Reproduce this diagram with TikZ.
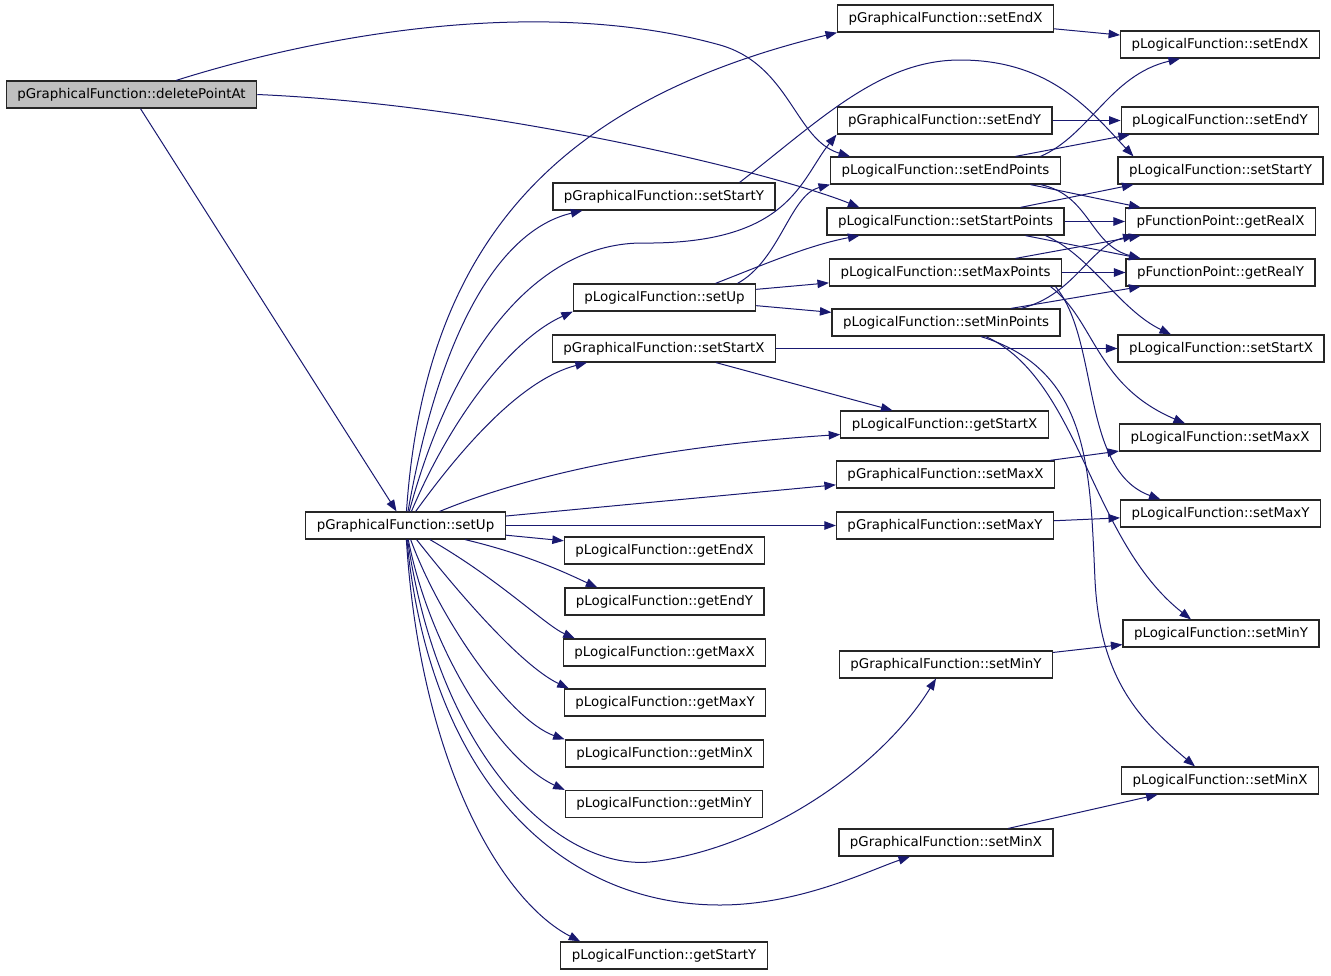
\documentclass[tikz,border=0pt]{standalone}
\usepackage{fontspec}
\setmainfont{DejaVu Sans}
\usepackage{tikz}
\usetikzlibrary{arrows.meta}
\definecolor{edgeblue}{RGB}{25,25,112}
\definecolor{rootgray}{RGB}{191,191,191}

\begin{document}
\begin{tikzpicture}[x=1pt,y=-1pt,
  fn/.style={draw=black!85,line width=1.2pt,fill=white,minimum height=27pt,inner xsep=11pt,inner ysep=0pt,font=\fontsize{13.4}{16}\selectfont},
  call/.style={draw=edgeblue,line width=1pt,-{Triangle[length=11.5pt,width=8.5pt,fill=edgeblue]}}]
  % Boundary
  \path[use as bounding box] (0,0) rectangle (1331,975);
  % Caller
  \node[fn,fill=rootgray] (dpa) at (131.5,94.5) {pGraphicalFunction::deletePointAt};
  \node[fn] (gsetup) at (405.5,525.5) {pGraphicalFunction::setUp};
  % Middle column
  \node[fn] (gsetstarty) at (664,196.5) {pGraphicalFunction::setStartY};
  \node[fn] (lsetup) at (664.5,297.5) {pLogicalFunction::setUp};
  \node[fn] (gsetstartx) at (664,348.5) {pGraphicalFunction::setStartX};
  \node[fn] (lgetendx) at (664.5,550.5) {pLogicalFunction::getEndX};
  \node[fn] (lgetendy) at (664.5,601.5) {pLogicalFunction::getEndY};
  \node[fn] (lgetmaxx) at (664.5,652.5) {pLogicalFunction::getMaxX};
  \node[fn] (lgetmaxy) at (665,702.5) {pLogicalFunction::getMaxY};
  \node[fn] (lgetminx) at (664.5,753.5) {pLogicalFunction::getMinX};
  \node[fn] (lgetminy) at (664,804) {pLogicalFunction::getMinY};
  \node[fn] (lgetstarty) at (664,955.5) {pLogicalFunction::getStartY};
  % Second column
  \node[fn] (gsetendx) at (945.5,18.5) {pGraphicalFunction::setEndX};
  \node[fn] (gsetendy) at (944.5,120.5) {pGraphicalFunction::setEndY};
  \node[fn] (lsetendpts) at (945.5,170.5) {pLogicalFunction::setEndPoints};
  \node[fn] (lsetstartpts) at (945.5,221.5) {pLogicalFunction::setStartPoints};
  \node[fn] (lsetmaxpts) at (945.5,272.5) {pLogicalFunction::setMaxPoints};
  \node[fn] (lsetminpts) at (946,322.5) {pLogicalFunction::setMinPoints};
  \node[fn] (lgetstartx) at (944.5,424.5) {pLogicalFunction::getStartX};
  \node[fn] (gsetmaxx) at (945.5,474.5) {pGraphicalFunction::setMaxX};
  \node[fn] (gsetmaxy) at (945,525.5) {pGraphicalFunction::setMaxY};
  \node[fn] (gsetminy) at (946,664.5) {pGraphicalFunction::setMinY};
  \node[fn] (gsetminx) at (946,842.5) {pGraphicalFunction::setMinX};
  % Right column
  \node[fn] (lsetendx) at (1220,44.5) {pLogicalFunction::setEndX};
  \node[fn] (lsetendy) at (1220,120.5) {pLogicalFunction::setEndY};
  \node[fn] (lsetstarty) at (1220.5,170.5) {pLogicalFunction::setStartY};
  \node[fn] (getrealx) at (1220.5,221.5) {pFunctionPoint::getRealX};
  \node[fn] (getrealy) at (1220.5,272.5) {pFunctionPoint::getRealY};
  \node[fn] (lsetstartx) at (1221,348.5) {pLogicalFunction::setStartX};
  \node[fn] (lsetmaxx) at (1220,437.5) {pLogicalFunction::setMaxX};
  \node[fn] (lsetmaxy) at (1220.5,513.5) {pLogicalFunction::setMaxY};
  \node[fn] (lsetminy) at (1221,633.5) {pLogicalFunction::setMinY};
  \node[fn] (lsetminx) at (1220,780.5) {pLogicalFunction::setMinX};
  % deletePointAt calls
  \draw[call] (dpa) -- (gsetup);
  \draw[call] (dpa) .. controls (320,35) and (540,-5) .. (720,45) .. controls (790,65) and (795,140) .. ([xshift=20pt]lsetendpts.north west);
  \draw[call] (dpa.east) .. controls (500,105) and (780,175) .. ([xshift=33pt]lsetstartpts.north west);
  % setUp calls, upwards
  \draw[call] (gsetup) .. controls (425,240) and (560,100) .. (gsetendx.south west);
  \draw[call] (gsetup) .. controls (440,330) and (500,230) .. ([xshift=30pt]gsetstarty.south west);
  \draw[call] (gsetup) .. controls (450,360) and (530,245) .. (640,243) .. controls (790,245) and (800,180) .. (gsetendy.south west);
  \draw[call] (gsetup) .. controls (450,420) and (510,340) .. (lsetup.south west);
  \draw[call] (gsetup) .. controls (460,450) and (520,380) .. ([xshift=35pt]gsetstartx.south west);
  \draw[call] (gsetup) .. controls (540,470) and (680,445) .. ([yshift=-10pt]lgetstartx.west);
  \draw[call] (gsetup) -- (gsetmaxx);
  \draw[call] (gsetup) -- (gsetmaxy);
  % setUp calls, downwards
  \draw[call] (gsetup) -- (lgetendx);
  \draw[call] (gsetup) .. controls (530,555) and (570,575) .. ([xshift=33pt]lgetendy.north west);
  \draw[call] (gsetup) .. controls (500,580) and (545,625) .. ([xshift=12pt]lgetmaxx.north west);
  \draw[call] (gsetup) .. controls (480,620) and (530,670) .. ([xshift=5pt]lgetmaxy.north west);
  \draw[call] (gsetup) .. controls (440,620) and (510,720) .. (lgetminx.north west);
  \draw[call] (gsetup) .. controls (430,650) and (500,760) .. (lgetminy.north west);
  \draw[call] (gsetup) .. controls (440,760) and (560,870) .. (650,862) .. controls (760,850) and (880,770) .. ([xshift=-10pt]gsetminy.south);
  \draw[call] (gsetup) .. controls (430,780) and (560,905) .. (720,905) .. controls (800,905) and (870,870) .. ([xshift=-36pt]gsetminx.south);
  \draw[call] (gsetup) .. controls (420,760) and (500,900) .. ([xshift=20pt]lgetstarty.north west);
  % pGraphicalFunction to pLogicalFunction
  \draw[call] (gsetendx) -- (lsetendx);
  \draw[call] (gsetendy) -- (lsetendy);
  \draw[call] ([xshift=-36pt]gsetstarty.north east) .. controls (820,120) and (880,60) .. (960,60) .. controls (1050,60) and (1090,110) .. ([xshift=16pt]lsetstarty.north west);
  \draw[call] (gsetstartx) -- (lsetstartx);
  \draw[call] (gsetstartx) -- (lgetstartx);
  \draw[call] (gsetmaxx) -- (lsetmaxx);
  \draw[call] (gsetmaxy) -- (lsetmaxy);
  \draw[call] (gsetminy) -- (lsetminy);
  \draw[call] (gsetminx) -- (lsetminx);
  % pLogicalFunction::setUp calls
  \draw[call] ([xshift=73pt]lsetup.north) .. controls (780,260) and (790,195) .. (lsetendpts.south west);
  \draw[call] ([xshift=51pt]lsetup.north) .. controls (770,262) and (810,245) .. ([xshift=33pt]lsetstartpts.south west);
  \draw[call] (lsetup) -- (lsetmaxpts);
  \draw[call] (lsetup) -- (lsetminpts);
  % setEndPoints
  \draw[call] ([xshift=95pt]lsetendpts.north) .. controls (1090,135) and (1110,75) .. ([xshift=-40pt]lsetendx.south);
  \draw[call] ([xshift=70pt]lsetendpts.north) -- ([xshift=-90pt]lsetendy.south);
  \draw[call] ([xshift=85pt]lsetendpts.south) -- ([xshift=-80pt]getrealx.north);
  \draw[call] ([xshift=95pt]lsetendpts.south) .. controls (1090,195) and (1090,245) .. ([xshift=-80pt]getrealy.north);
  % setStartPoints
  \draw[call] ([xshift=75pt]lsetstartpts.north) -- ([xshift=-87pt]lsetstarty.south);
  \draw[call] (lsetstartpts) -- (getrealx);
  \draw[call] ([xshift=80pt]lsetstartpts.south) -- ([xshift=-80pt]getrealy.north);
  \draw[call] ([xshift=100pt]lsetstartpts.south) .. controls (1090,255) and (1120,310) .. ([xshift=-50pt]lsetstartx.north);
  % setMaxPoints
  \draw[call] ([xshift=70pt]lsetmaxpts.north) -- ([xshift=-80pt]getrealx.south);
  \draw[call] (lsetmaxpts) -- (getrealy);
  \draw[call] ([xshift=105pt]lsetmaxpts.south) .. controls (1095,320) and (1095,385) .. ([xshift=-35pt]lsetmaxx.north);
  \draw[call] ([xshift=110pt]lsetmaxpts.south) .. controls (1100,340) and (1080,470) .. ([xshift=-60pt]lsetmaxy.north);
  % setMinPoints
  \draw[call] ([xshift=75pt]lsetminpts.north) .. controls (1075,295) and (1090,245) .. ([xshift=-86pt]getrealx.south);
  \draw[call] ([xshift=65pt]lsetminpts.north) -- ([xshift=-80pt]getrealy.south);
  \draw[call] ([xshift=40pt]lsetminpts.south) .. controls (1080,380) and (1090,540) .. ([xshift=-30pt]lsetminy.north);
  \draw[call] ([xshift=35pt]lsetminpts.south) .. controls (1090,370) and (1090,470) .. (1095,580) .. controls (1100,680) and (1140,720) .. ([xshift=-25pt]lsetminx.north);
\end{tikzpicture}
\end{document}
